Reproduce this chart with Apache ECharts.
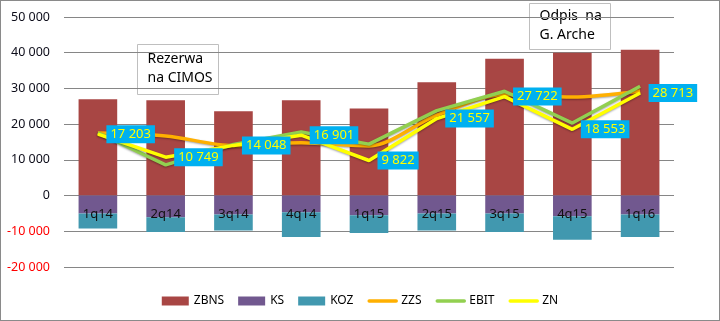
<!DOCTYPE html>
<html><head><meta charset="utf-8">
<script src="https://cdn.jsdelivr.net/npm/echarts@6/dist/echarts.min.js"></script>
<style>
html,body{margin:0;padding:0;background:#fff;}
#c{width:720px;height:321px;box-sizing:border-box;border:1px solid #8a8a8a;}
</style></head>
<body><div id="c"></div>
<script>
const categories = ['1q14','2q14','3q14','4q14','1q15','2q15','3q15','4q15','1q16'];
const zbns = [27000, 26700, 23600, 26700, 24400, 31700, 38300, 40000, 40800];
const ks   = [-5000, -6100, -5300, -4700, -5500, -5000, -5000, -5800, -5300];
const koz  = [-4200, -4100, -4500, -6900, -5000, -4800, -5200, -6600, -6300];
const zzs  = [17500, 16700, 14000, 14800, 13900, 22500, 28300, 27600, 29300];
const ebit = [17600, 8600, 14300, 17800, 14400, 23800, 29200, 20300, 30600];
const zn   = [17203, 10749, 14048, 16901, 9822, 21557, 27722, 18553, 28713];
const yTicks = {min: -20000, max: 50000, interval: 10000};

const FONT = 'Noto Sans';
function fmt(v){ const s = String(Math.abs(Math.round(v))).replace(/\B(?=(\d{3})+(?!\d))/g, ' '); return (v<0?'-':'') + s; }

const chart = echarts.init(document.getElementById('c'), null, {renderer:'canvas'});
const lineShadow = {shadowColor:'rgba(0,0,0,0.35)', shadowBlur:2, shadowOffsetY:1};
const hideSym = {opacity:0};
const legLine = {width:3.5, cap:'round'};
chart.setOption({
  animation:false,
  textStyle:{fontFamily:FONT},
  grid:{left:63, right:45, top:16, bottom:53, containLabel:false},
  legend:{
    bottom:8, left:'center', itemWidth:27, itemHeight:9, itemGap:14,
    textStyle:{fontFamily:FONT, fontSize:12, color:'#000'},
    data:[
      {name:'ZBNS', icon:'rect'},{name:'KS', icon:'rect'},{name:'KOZ', icon:'rect'},
      {name:'ZZS', itemStyle:hideSym, lineStyle:legLine},
      {name:'EBIT', itemStyle:hideSym, lineStyle:legLine},
      {name:'ZN', itemStyle:hideSym, lineStyle:legLine}
    ]
  },
  xAxis:{
    type:'category', data:categories, z:10, offset:-72,
    axisLine:{show:false, onZero:false},
    axisTick:{show:false},
    axisLabel:{margin:13, color:'#111', fontSize:13, fontFamily:FONT}
  },
  yAxis:{
    type:'value', min:yTicks.min, max:yTicks.max, interval:yTicks.interval,
    axisLine:{show:false}, axisTick:{show:false},
    splitLine:{lineStyle:{color:'#868686', width:1}},
    axisLabel:{
      margin:14, fontSize:12.5, fontFamily:FONT,
      formatter:v=>fmt(v),
      color:v=> (Number(v)<0 ? '#ff0000' : '#0d0d1a')
    }
  },
  series:[
    {name:'ZBNS', type:'bar', stack:'s', data:zbns, barWidth:'57%', itemStyle:{color:'#A84644'}},
    {name:'KS', type:'bar', stack:'s', data:ks, itemStyle:{color:'#71588F'}},
    {name:'KOZ', type:'bar', stack:'s', data:koz, itemStyle:{color:'#4198AF'}},
    {name:'ZZS', type:'line', data:zzs, symbol:'none', smooth:0.3, z:3,
      lineStyle:Object.assign({color:'#FFB000', width:3.5}, lineShadow), itemStyle:{color:'#FFB000'}},
    {name:'EBIT', type:'line', data:ebit, symbol:'none', z:4,
      lineStyle:Object.assign({color:'#92D050', width:3.5}, lineShadow), itemStyle:{color:'#92D050'}},
    {name:'ZN', type:'line', data:zn, symbol:'circle', symbolSize:1, showSymbol:true, z:5,
      lineStyle:Object.assign({color:'#FFFF00', width:3.5}, lineShadow), itemStyle:{color:'#FFFF00'},
      label:{show:true, position:'right', distance:8, formatter:p=>fmt(p.value),
        backgroundColor:'#00B0F0', color:'#FFFF00', fontSize:13, fontFamily:FONT,
        padding:[3,4,2,4]}}
  ],
  graphic:[
    {type:'group', left:136, top:43, children:[
      {type:'rect', shape:{x:0,y:0,width:81,height:50}, style:{fill:'#fff', stroke:'#bfbfbf', lineWidth:1}},
      {type:'text', x:10, y:5, style:{text:'Rezerwa\nna CIMOS', fill:'#000', font:'14px "Noto Sans"', lineHeight:19}}
    ]},
    {type:'group', left:528, top:2, children:[
      {type:'rect', shape:{x:0,y:0,width:81,height:46}, style:{fill:'#fff', stroke:'#bfbfbf', lineWidth:1}},
      {type:'text', x:10, y:3, style:{text:'Odpis  na\nG. Arche', fill:'#000', font:'14px "Noto Sans"', lineHeight:19}}
    ]}
  ]
});
</script></body></html>
